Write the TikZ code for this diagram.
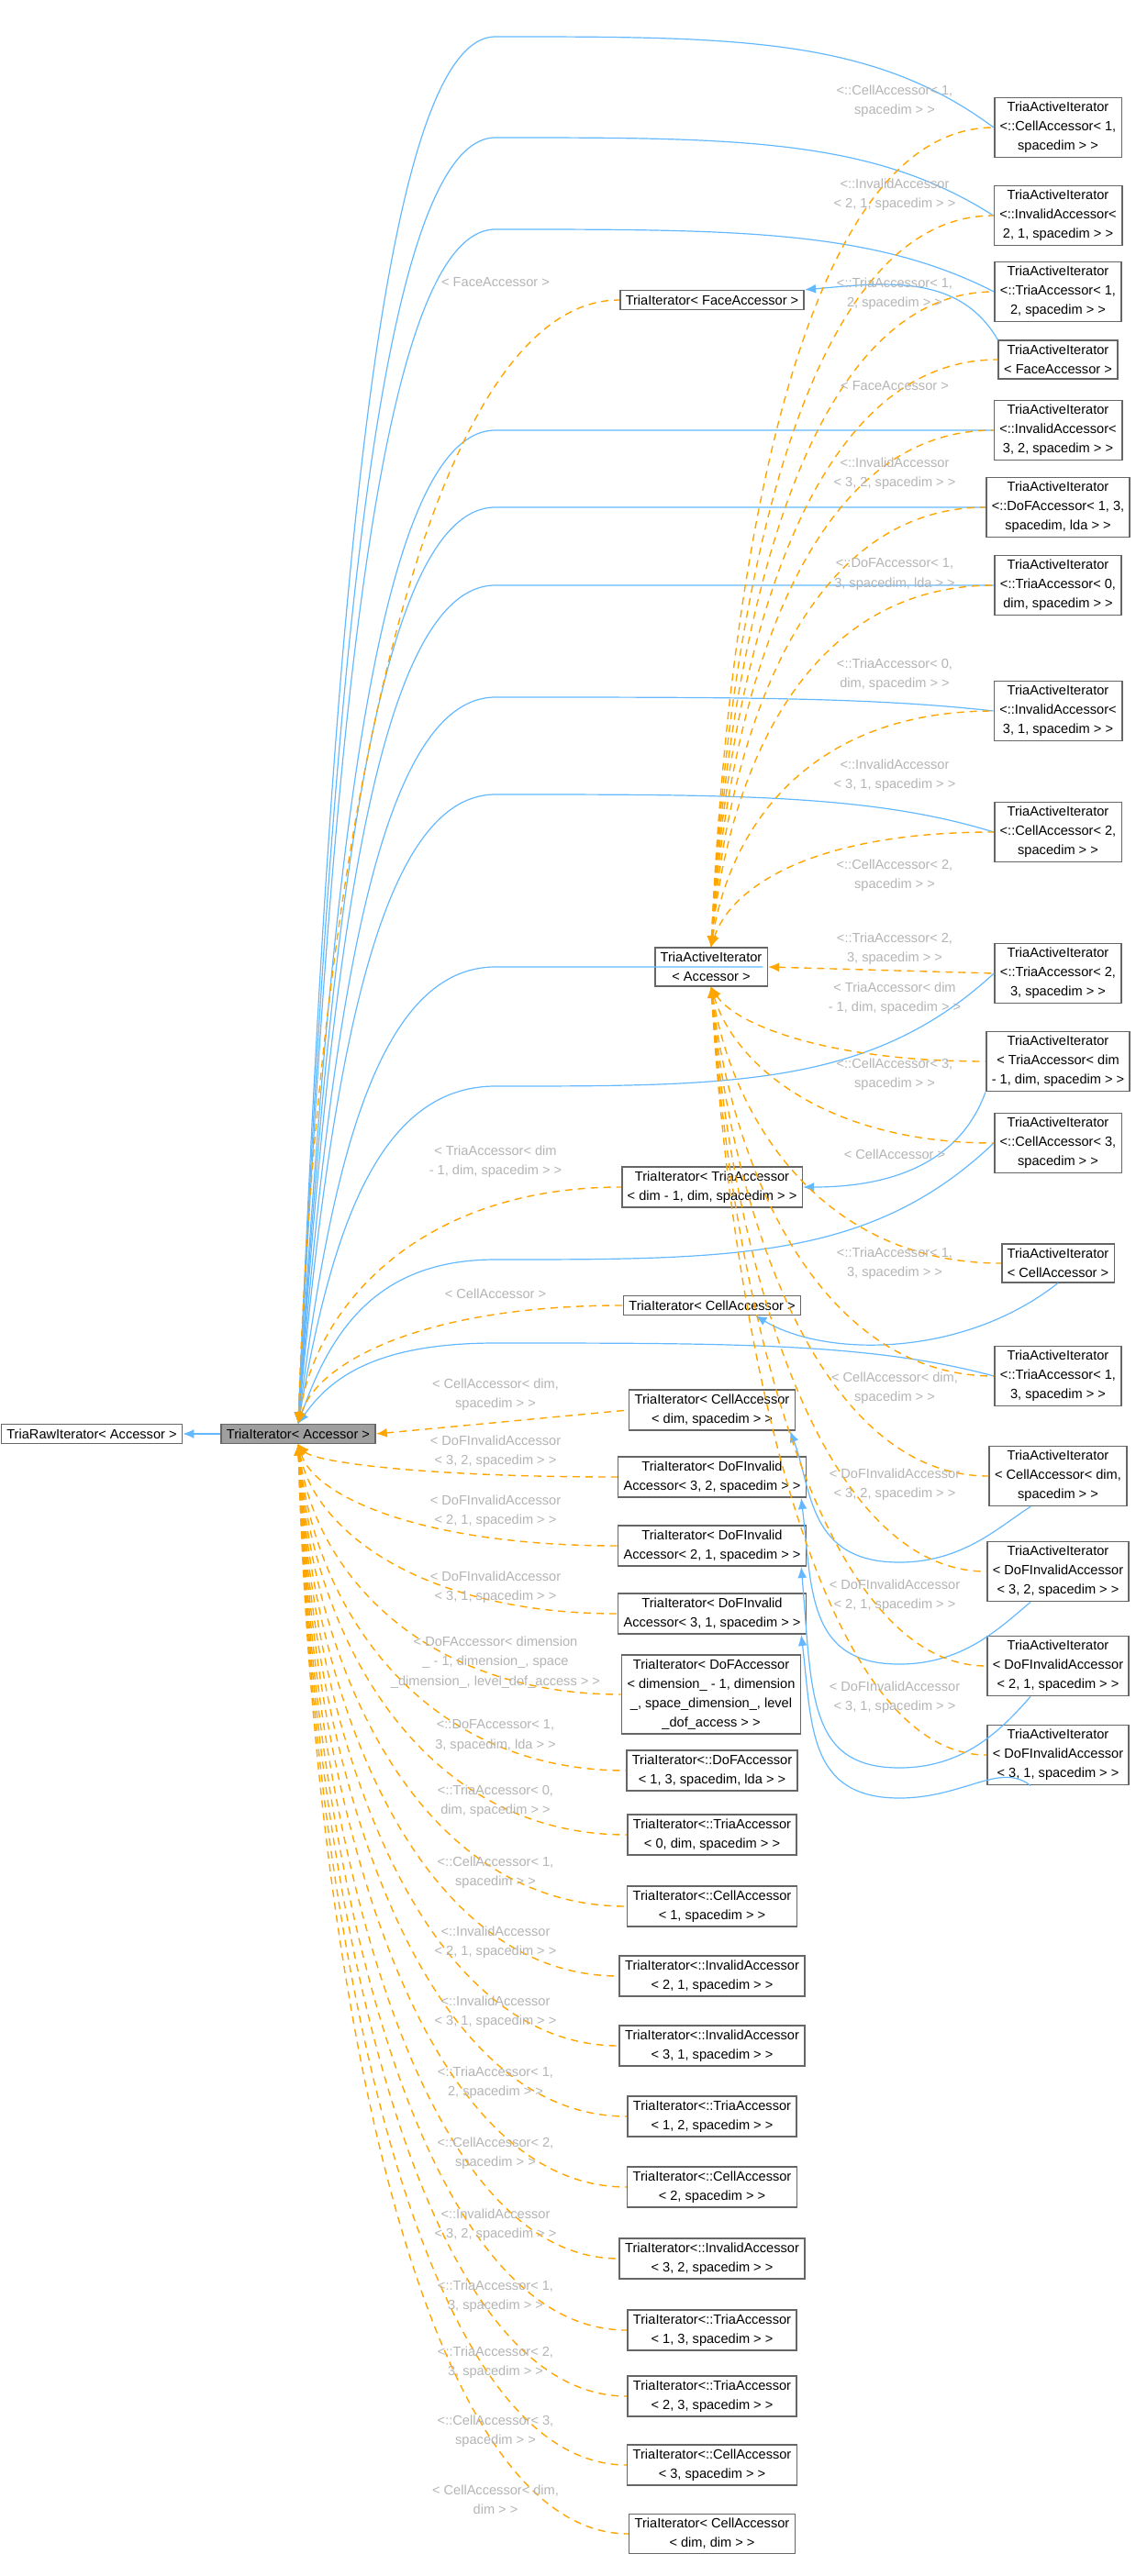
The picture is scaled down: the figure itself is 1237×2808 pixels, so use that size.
\documentclass[tikz,border=0pt]{standalone}
\usepackage{fontspec}
\setmainfont{Liberation Sans}
\usepackage{tikz}
\usetikzlibrary{positioning}
\usetikzlibrary{arrows.meta}

\definecolor{inhblue}{HTML}{63B8FF}
\definecolor{tplorange}{HTML}{FFA500}
\definecolor{lblgray}{HTML}{B4B4B4}
\definecolor{boxgray}{HTML}{666666}

\tikzset{
	cls/.style={draw=boxgray, line width=0.8pt, fill=white, align=center,
		font=\fontsize{7.3}{10.4}\selectfont, inner xsep=3pt, inner ysep=2.5pt},
	lbl/.style={text=lblgray, align=center, font=\fontsize{7.3}{10.6}\selectfont},
	inh/.style={draw=inhblue, line width=0.6pt, {Latex[length=6pt,width=5pt]}-},
	tpl/.style={draw=tplorange, line width=0.7pt, dash pattern=on 4pt off 3pt, {Latex[length=6pt,width=5pt]}-}
}

\begin{document}
\begin{tikzpicture}[x=0.5pt, y=-0.5pt]
	
	\useasboundingbox (0,0) rectangle (1237,2808);
	
	% the two base classes
	\node[cls] (raw) at (100,1563) {TriaRawIterator< Accessor >};
	\node[cls, fill=gray!75] (tit) at (325,1563) {TriaIterator< Accessor >};
	\node[cls] (act) at (775,1054) {TriaActiveIterator\\< Accessor >};
	
	% middle column
	\node[cls] (fit) at (776,327) {TriaIterator< FaceAccessor >};
	\node[cls] (tdim) at (776,1294) {TriaIterator< TriaAccessor\\< dim - 1, dim, spacedim > >};
	\node[cls] (cit) at (776,1423) {TriaIterator< CellAccessor >};
	\node[cls] (cdit) at (776,1537) {TriaIterator< CellAccessor\\< dim, spacedim > >};
	\node[cls] (dia) at (776,1610) {TriaIterator< DoFInvalid\\Accessor< 3, 2, spacedim > >};
	\node[cls] (dib) at (776,1685) {TriaIterator< DoFInvalid\\Accessor< 2, 1, spacedim > >};
	\node[cls] (dic) at (776,1759) {TriaIterator< DoFInvalid\\Accessor< 3, 1, spacedim > >};
	\node[cls] (dof) at (775,1847) {TriaIterator< DoFAccessor\\< dimension\_ - 1, dimension\\\_, space\_dimension\_, level\\\_dof\_access > >};
	
	\foreach \n/\y/\t in {
		m1/1930/{TriaIterator<::DoFAccessor\\< 1, 3, spacedim, lda > >},
		m2/2000/{TriaIterator<::TriaAccessor\\< 0, dim, spacedim > >},
		m3/2078/{TriaIterator<::CellAccessor\\< 1, spacedim > >},
		m4/2154/{TriaIterator<::InvalidAccessor\\< 2, 1, spacedim > >},
		m5/2230/{TriaIterator<::InvalidAccessor\\< 3, 1, spacedim > >},
		m6/2307/{TriaIterator<::TriaAccessor\\< 1, 2, spacedim > >},
		m7/2384/{TriaIterator<::CellAccessor\\< 2, spacedim > >},
		m8/2462/{TriaIterator<::InvalidAccessor\\< 3, 2, spacedim > >},
		m9/2540/{TriaIterator<::TriaAccessor\\< 1, 3, spacedim > >},
		m10/2612/{TriaIterator<::TriaAccessor\\< 2, 3, spacedim > >},
		m11/2687/{TriaIterator<::CellAccessor\\< 3, spacedim > >},
		m12/2762/{TriaIterator< CellAccessor\\< dim, dim > >}}
		\node[cls] (\n) at (776,\y) {\t};
	
	% right column
	\foreach \n/\y/\t in {
		r1/139/{TriaActiveIterator\\<::CellAccessor< 1,\\spacedim > >},
		r2/235/{TriaActiveIterator\\<::InvalidAccessor<\\2, 1, spacedim > >},
		r3/318/{TriaActiveIterator\\<::TriaAccessor< 1,\\2, spacedim > >},
		r4/392/{TriaActiveIterator\\< FaceAccessor >},
		r5/469/{TriaActiveIterator\\<::InvalidAccessor<\\3, 2, spacedim > >},
		r6/553/{TriaActiveIterator\\<::DoFAccessor< 1, 3,\\spacedim, lda > >},
		r7/638/{TriaActiveIterator\\<::TriaAccessor< 0,\\dim, spacedim > >},
		r8/775/{TriaActiveIterator\\<::InvalidAccessor<\\3, 1, spacedim > >},
		r9/907/{TriaActiveIterator\\<::CellAccessor< 2,\\spacedim > >},
		r10/1061/{TriaActiveIterator\\<::TriaAccessor< 2,\\3, spacedim > >},
		r11/1157/{TriaActiveIterator\\< TriaAccessor< dim\\- 1, dim, spacedim > >},
		r12/1246/{TriaActiveIterator\\<::CellAccessor< 3,\\spacedim > >},
		r13/1377/{TriaActiveIterator\\< CellAccessor >},
		r14/1500/{TriaActiveIterator\\<::TriaAccessor< 1,\\3, spacedim > >},
		r15/1609/{TriaActiveIterator\\< CellAccessor< dim,\\spacedim > >},
		r16/1713/{TriaActiveIterator\\< DoFInvalidAccessor\\< 3, 2, spacedim > >},
		r17/1816/{TriaActiveIterator\\< DoFInvalidAccessor\\< 2, 1, spacedim > >},
		r18/1913/{TriaActiveIterator\\< DoFInvalidAccessor\\< 3, 1, spacedim > >}}
		\node[cls] (\n) at (1153,\y) {\t};
	
	% inheritance
	\draw[inh] (raw) -- (tit);
	\foreach \b/\y in {act/1054,r1/40,r2/150,r3/250,r5/469,r6/553,r7/638,r8/760,r9/866,r10/1184,r12/1373,r14/1464}
		\draw[inh] (tit.north) .. controls (360,{\y+0.45*(1548-\y)}) and (410,\y) .. (540,\y)
			.. controls (800,\y) and (950,\y) .. (\b.west);
	\draw[inh] (fit.north east) to[out=5, in=120] (r4.north west);
	\draw[inh] (tdim.east) to[out=0, in=250] (r11.south west);
	\draw[inh] ([xshift=-25pt]cit.south east) .. controls (900,1480) and (1050,1480) .. (r13.south);
	\foreach \d/\r/\yb in {cdit/r15/1703, dia/r16/1814, dib/r17/1927, dic/r18/1960}
		\draw[inh] ([xshift=-3pt]\d.south east) .. controls (885,{\yb-80}) and (880,\yb) .. (980,\yb)
			.. controls (1050,\yb) and (1090,{\yb-40}) .. ([xshift=-15pt]\r.south);
	
	% template instances of TriaIterator
	\foreach \m/\y in {fit/327,tdim/1294,cit/1423}
		\draw[tpl] (tit.north) .. controls (345,{(1548+\y)/2}) and (460,\y) .. (\m.west);
	\draw[tpl] (tit.east) -- (cdit.west);
	\foreach \m/\y in {dia/1610,dib/1685,dic/1759,dof/1847,m1/1930,m2/2000,m3/2078,m4/2154,m5/2230,m6/2307,m7/2384,m8/2462,m9/2540,m10/2612,m11/2687,m12/2762}
		\draw[tpl] (tit.south) .. controls (342,{(1577+\y)/2}) and (460,\y) .. (\m.west);
	
	% template instances of TriaActiveIterator
	\foreach \r/\y in {r1/139,r2/235,r3/318,r4/392,r5/469,r6/553,r7/638,r8/775,r9/907}
		\draw[tpl] (act.north) .. controls (795,{(1033+\y)/2}) and (880,\y) .. (\r.west);
	\draw[tpl] (act.east) -- (r10.west);
	\foreach \r/\y in {r11/1157,r12/1246,r13/1377,r14/1500,r15/1609,r16/1713,r17/1816,r18/1913}
		\draw[tpl] (act.south) .. controls (800,{(1075+\y)/2}) and (900,\y) .. (\r.west);
	
	% labels, middle column
	\foreach \n/\y/\t in {
		lfit/308/{< FaceAccessor >},
		ltdim/1266/{< TriaAccessor< dim\\ - 1, dim, spacedim > >},
		lcit/1410/{< CellAccessor >},
		lcdit/1520/{< CellAccessor< dim,\\spacedim > >},
		ldia/1582/{< DoFInvalidAccessor\\< 3, 2, spacedim > >},
		ldib/1647/{< DoFInvalidAccessor\\< 2, 1, spacedim > >},
		ldic/1730/{< DoFInvalidAccessor\\< 3, 1, spacedim > >},
		ldof/1812/{< DoFAccessor< dimension\\\_ - 1, dimension\_, space\\\_dimension\_, level\_dof\_access > >},
		lm1/1892/{<::DoFAccessor< 1,\\3, spacedim, lda > >},
		lm2/1963/{<::TriaAccessor< 0,\\dim, spacedim > >},
		lm3/2041/{<::CellAccessor< 1,\\spacedim > >},
		lm4/2117/{<::InvalidAccessor\\< 2, 1, spacedim > >},
		lm5/2193/{<::InvalidAccessor\\< 3, 1, spacedim > >},
		lm6/2270/{<::TriaAccessor< 1,\\2, spacedim > >},
		lm7/2347/{<::CellAccessor< 2,\\spacedim > >},
		lm8/2425/{<::InvalidAccessor\\< 3, 2, spacedim > >},
		lm9/2503/{<::TriaAccessor< 1,\\3, spacedim > >},
		lm10/2575/{<::TriaAccessor< 2,\\3, spacedim > >},
		lm11/2650/{<::CellAccessor< 3,\\spacedim > >},
		lm12/2725/{< CellAccessor< dim,\\dim > >}}
		\node[lbl] (\n) at (540,\y) {\t};
	
	% labels, right column
	\foreach \n/\y/\t in {
		lr1/110/{<::CellAccessor< 1,\\spacedim > >},
		lr2/212/{<::InvalidAccessor\\< 2, 1, spacedim > >},
		lr3/320/{<::TriaAccessor< 1,\\2, spacedim > >},
		lr4/421/{< FaceAccessor >},
		lr5/516/{<::InvalidAccessor\\< 3, 2, spacedim > >},
		lr6/626/{<::DoFAccessor< 1,\\3, spacedim, lda > >},
		lr7/735/{<::TriaAccessor< 0,\\dim, spacedim > >},
		lr8/845/{<::InvalidAccessor\\< 3, 1, spacedim > >},
		lr9/954/{<::CellAccessor< 2,\\spacedim > >},
		lr10/1034/{<::TriaAccessor< 2,\\3, spacedim > >},
		lr11/1088/{< TriaAccessor< dim\\ - 1, dim, spacedim > >},
		lr12/1171/{<::CellAccessor< 3,\\spacedim > >},
		lr13/1258/{< CellAccessor >},
		lr14/1377/{<::TriaAccessor< 1,\\3, spacedim > >},
		lr15/1513/{< CellAccessor< dim,\\spacedim > >},
		lr16/1618/{< DoFInvalidAccessor\\< 3, 2, spacedim > >},
		lr17/1739/{< DoFInvalidAccessor\\< 2, 1, spacedim > >},
		lr18/1850/{< DoFInvalidAccessor\\< 3, 1, spacedim > >}}
		\node[lbl] (\n) at (975,\y) {\t};
	
\end{tikzpicture}
\end{document}
